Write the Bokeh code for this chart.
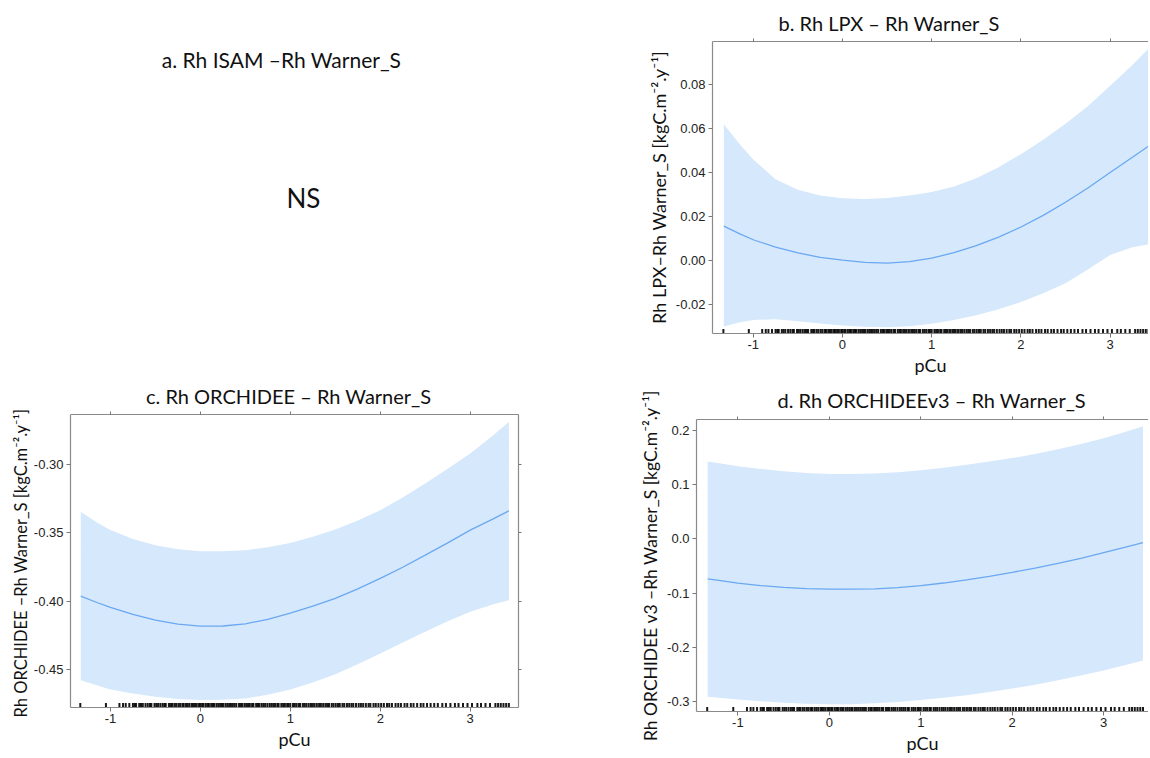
import math
from bokeh.plotting import figure
from bokeh.layouts import column, row
from bokeh.models import Label, LinearAxis, FixedTicker, Range1d, Title
from bokeh.embed import file_html
from bokeh.resources import INLINE

# ---------------- data ----------------
pcu = [-1.33, -1.15, -1.0, -0.75, -0.5, -0.25, 0.0, 0.25, 0.5, 0.75, 1.0,
       1.25, 1.5, 1.75, 2.0, 2.25, 2.5, 2.75, 3.0, 3.25, 3.43]

b_fit = [0.0156, 0.0121, 0.0094, 0.0060, 0.0034, 0.0014, 0.0001, -0.0009, -0.0012, -0.0006, 0.0010,
         0.0035, 0.0067, 0.0106, 0.0152, 0.0205, 0.0265, 0.0330, 0.0400, 0.0470, 0.0520]
b_upper = [0.0620, 0.0528, 0.0460, 0.0370, 0.0322, 0.0295, 0.0283, 0.0280, 0.0284, 0.0295, 0.0312,
           0.0337, 0.0374, 0.0424, 0.0484, 0.0550, 0.0622, 0.0702, 0.0795, 0.0890, 0.0964]
b_lower = [-0.0301, -0.0282, -0.0271, -0.0268, -0.0277, -0.0288, -0.0296, -0.0302, -0.0304, -0.0300, -0.0289,
           -0.0272, -0.0250, -0.0222, -0.0190, -0.0150, -0.0104, -0.0042, 0.0025, 0.0060, 0.0073]

c_fit = [-0.3963, -0.4010, -0.4046, -0.4097, -0.4139, -0.4168, -0.4183, -0.4182, -0.4166, -0.4133, -0.4087,
         -0.4037, -0.3980, -0.3910, -0.3834, -0.3752, -0.3664, -0.3574, -0.3481, -0.3400, -0.3340]
c_upper = [-0.3347, -0.3425, -0.3480, -0.3545, -0.3591, -0.3620, -0.3635, -0.3636, -0.3627, -0.3606, -0.3574,
           -0.3530, -0.3476, -0.3410, -0.3335, -0.3242, -0.3140, -0.3032, -0.2920, -0.2790, -0.2689]
c_lower = [-0.4578, -0.4615, -0.4646, -0.4675, -0.4699, -0.4716, -0.4724, -0.4722, -0.4712, -0.4685, -0.4646,
           -0.4595, -0.4534, -0.4462, -0.4383, -0.4303, -0.4224, -0.4148, -0.4078, -0.4025, -0.3993]

d_fit = [-0.0739, -0.0782, -0.0818, -0.0862, -0.0897, -0.0918, -0.0927, -0.0928, -0.0921, -0.0898, -0.0863,
         -0.0815, -0.0758, -0.0692, -0.0618, -0.0540, -0.0455, -0.0360, -0.0255, -0.0150, -0.0073]
d_upper = [0.1424, 0.1375, 0.1333, 0.1285, 0.1242, 0.1212, 0.1194, 0.1192, 0.1200, 0.1225, 0.1261,
           0.1308, 0.1364, 0.1422, 0.1485, 0.1562, 0.1648, 0.1745, 0.1848, 0.1972, 0.2073]
d_lower = [-0.2909, -0.2935, -0.2958, -0.2990, -0.3018, -0.3038, -0.3048, -0.3045, -0.3030, -0.3003, -0.2970,
           -0.2928, -0.2879, -0.2822, -0.2758, -0.2686, -0.2606, -0.2518, -0.2424, -0.2320, -0.2242]

# observed pCu values (rug)
rug_pcu = [-1.335, -1.05, -0.90, -0.86, -0.83, -0.79,
           -0.75, -0.73, -0.715, -0.68, -0.66, -0.64, -0.61, -0.585, -0.56, -0.545, -0.51, -0.49, -0.47,
           -0.445, -0.42, -0.40, -0.385, -0.35, -0.33, -0.315, -0.29, -0.27, -0.245, -0.225, -0.20, -0.185,
           -0.16, -0.14, -0.12, -0.095, -0.08, -0.06, -0.04, -0.015, 0.00, 0.02, 0.035, 0.06, 0.08, 0.095,
           0.12, 0.14, 0.155, 0.18, 0.20, 0.22, 0.24, 0.255, 0.28, 0.30, 0.32, 0.34, 0.36, 0.38, 0.40,
           0.43, 0.45, 0.465, 0.49, 0.51, 0.53, 0.55, 0.575, 0.59, 0.62, 0.64, 0.655, 0.68, 0.70, 0.72,
           0.745, 0.77, 0.79, 0.81, 0.83, 0.855, 0.87, 0.90, 0.92, 0.94, 0.965, 0.98, 1.00, 1.03, 1.05,
           1.07, 1.095, 1.11, 1.14, 1.16, 1.18, 1.205, 1.23, 1.25, 1.27, 1.295, 1.32, 1.34, 1.365, 1.39,
           1.41, 1.43, 1.46, 1.48, 1.505, 1.53, 1.55, 1.58, 1.60, 1.63, 1.655, 1.68, 1.70, 1.73, 1.76,
           1.785, 1.81, 1.84, 1.87, 1.89, 1.925, 1.95, 1.98, 2.01, 2.04, 2.075, 2.10, 2.13, 2.17, 2.20,
           2.23, 2.27, 2.30, 2.34, 2.37, 2.41, 2.45, 2.48, 2.52, 2.56, 2.60,
           2.64, 2.69, 2.73, 2.78, 2.83, 2.87, 2.92, 2.97, 3.02, 3.08, 3.12, 3.17, 3.22,
           3.28, 3.31, 3.34, 3.37, 3.40, 3.43]

x_ticks = [-1, 0, 1, 2, 3]
x_tick_labels = ["-1", "0", "1", "2", "3"]

b_yticks = [-0.02, 0.0, 0.02, 0.04, 0.06, 0.08]
b_ylabels = ["-0.02", "0.00", "0.02", "0.04", "0.06", "0.08"]
c_yticks = [-0.45, -0.40, -0.35, -0.30]
c_ylabels = ["-0.45", "-0.40", "-0.35", "-0.30"]
d_yticks = [-0.3, -0.2, -0.1, 0.0, 0.1, 0.2]
d_ylabels = ["-0.3", "-0.2", "-0.1", "0.0", "0.1", "0.2"]

titles = ["a. Rh ISAM \u2013Rh Warner_S",
          "b. Rh LPX \u2013 Rh Warner_S",
          "c. Rh ORCHIDEE \u2013 Rh Warner_S",
          "d. Rh ORCHIDEEv3 \u2013 Rh Warner_S"]
ylabels = ["",
           "Rh LPX\u2013Rh Warner_S [kgC.m\u207b\u00b2.y\u207b\u00b9]",
           "Rh ORCHIDEE  \u2013Rh Warner_S [kgC.m\u207b\u00b2.y\u207b\u00b9]",
           "Rh ORCHIDEE v3 \u2013Rh Warner_S [kgC.m\u207b\u00b2.y\u207b\u00b9]"]
xlabel = "pCu"
ns_text = "NS"

# ---------------- style ----------------
BAND = "#d6e8fb"
LINE = "#6aa8f2"
FRAME = "#8a8a8a"
TICKC = "#777777"
LBL_FONT = "Lato"
TICK_FONT = "Liberation Sans"
TITLE_SIZE = "20px"


def style_axes(p, ylab_size):
    for ax in p.xaxis + p.yaxis:
        ax.axis_line_color = FRAME
        ax.axis_line_width = 1.2
        ax.major_tick_line_color = TICKC
        ax.major_tick_out = 4
        ax.major_tick_in = 0
        ax.minor_tick_line_color = None
        ax.major_label_text_font = TICK_FONT
        ax.major_label_text_font_size = "13px"
        ax.major_label_text_color = "#222222"
        ax.axis_label_text_font = LBL_FONT
        ax.axis_label_text_font_size = "18px"
        ax.axis_label_text_font_style = "normal"
        ax.axis_label_text_color = "#111111"
    p.yaxis.axis_label_text_font_size = ylab_size


def hidden_label_axis(ticks):
    return LinearAxis(ticker=FixedTicker(ticks=ticks),
                      major_label_overrides={k: "" for k in ticks},
                      major_label_text_font_size="1px",
                      axis_line_color=FRAME, axis_line_width=1.2,
                      major_tick_line_color=TICKC,
                      major_tick_out=3, major_tick_in=0, minor_tick_line_color=None,
                      major_label_standoff=0)


def text_strip(width, height, items):
    """A blank figure whose data units are pixels from its top-left corner, holding texts."""
    s = figure(width=width, height=height, x_range=Range1d(0, width), y_range=Range1d(height, 0),
               output_backend="svg", toolbar_location=None, title=None,
               x_axis_location=None, y_axis_location=None,
               min_border_left=0, min_border_right=0, min_border_top=0, min_border_bottom=0)
    s.xgrid.visible = False
    s.ygrid.visible = False
    s.outline_line_color = None
    for (x, y, txt, size) in items:
        s.add_layout(Label(x=x, y=y, text=txt, text_font=LBL_FONT, text_font_size=size,
                           text_color="#111111", text_align="center", text_baseline="middle"))
    return s


def panel(width, height, borders, xr, yr, yticks, ylabs, ylabel, ylab_size,
          fit, upper, lower, ylabel_standoff, title=None, title_offset=0, title_standoff=0,
          right_ticks=False):
    l, r, t, b = borders
    p = figure(width=width, height=height, x_range=Range1d(*xr), y_range=Range1d(*yr),
               output_backend="svg", toolbar_location=None, title=None,
               min_border_left=l, min_border_right=r, min_border_top=t, min_border_bottom=b,
               x_axis_label=xlabel, y_axis_label=ylabel)
    p.xgrid.visible = False
    p.ygrid.visible = False
    p.outline_line_color = None
    p.background_fill_color = "white"
    p.border_fill_color = "white"

    p.xaxis.ticker = FixedTicker(ticks=x_ticks)
    p.xaxis.major_label_overrides = dict(zip(x_ticks, x_tick_labels))
    p.yaxis.ticker = FixedTicker(ticks=yticks)
    p.yaxis.major_label_overrides = dict(zip(yticks, ylabs))
    style_axes(p, ylab_size)
    p.xaxis.major_label_standoff = 2
    p.xaxis.axis_label_standoff = 2
    p.yaxis.major_label_standoff = 3
    p.yaxis.axis_label_standoff = ylabel_standoff

    p.add_layout(hidden_label_axis(x_ticks), "above")
    if title is not None:
        p.add_layout(Title(text=title, align="left", offset=title_offset, standoff=title_standoff,
                           text_font=LBL_FONT, text_font_size=TITLE_SIZE, text_font_style="normal",
                           text_color="#111111"), "above")
    if right_ticks:
        p.add_layout(hidden_label_axis(yticks), "right")

    p.varea(x=pcu, y1=lower, y2=upper, fill_color=BAND, fill_alpha=1.0)
    p.line(x=pcu, y=fit, line_color=LINE, line_width=1.3)
    rug_y = [yr[0]] * len(rug_pcu)
    p.scatter(x=rug_pcu, y=rug_y, marker="dash", angle=math.pi / 2, size=9,
              line_color="#000000", line_alpha=0.9, line_width=2)
    return p


# panel a (no plot, only title and NS)
pa = text_strip(608, 378, [(281, 23, titles[0], "21px"), (303, 203, ns_text, "26px")])

# panel b: frame left 712, top 41, bottom 333 (page coords)
pb = panel(540, 378, (104, 0, 41, 45), (-1.457, 3.43), (-0.0333, 0.0997),
           b_yticks, b_ylabels, ylabels[1], "18px",
           b_fit, b_upper, b_lower, 3, title=titles[1], title_offset=66, title_standoff=7)

# strip holding the title of c (page y 378..408)
sc = text_strip(620, 30, [(302, 17, titles[2], TITLE_SIZE)])

# panel c: frame left 70, right 518, top 414, bottom 707
pc = panel(620, 348, (70, 102, 6, 49), (-1.444, 3.537), (-0.4778, -0.2635),
           c_yticks, c_ylabels, ylabels[2], "16.5px",
           c_fit, c_upper, c_lower, 0, right_ticks=True)

# panel d: frame left 696, top 419, bottom 713
pd_ = panel(528, 378, (76, 0, 41, 43), (-1.452, 3.49), (-0.318, 0.2195),
            d_yticks, d_ylabels, ylabels[3], "17.5px",
            d_fit, d_upper, d_lower, 3, title=titles[3], title_offset=81, title_standoff=9)

layout = column(row(pa, pb), row(column(sc, pc), pd_))

open("out.html", "w").write(file_html(layout, INLINE))
